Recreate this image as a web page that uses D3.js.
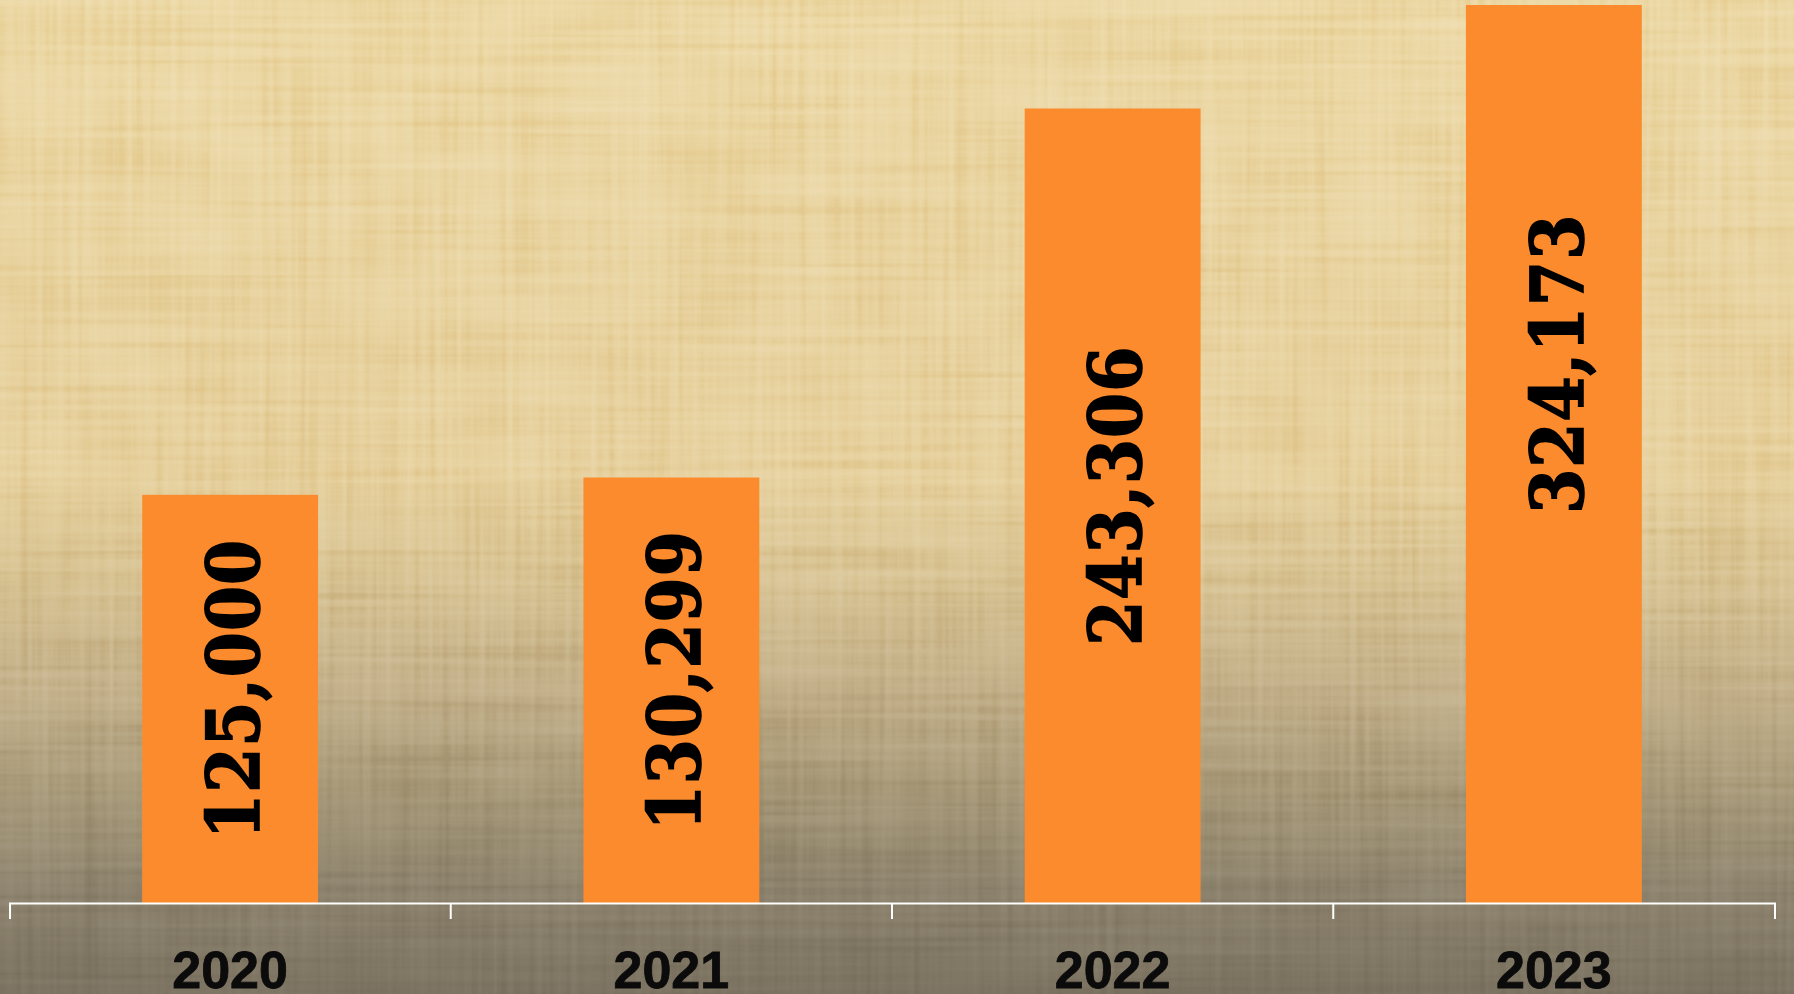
<!DOCTYPE html>
<html>
<head>
<meta charset="utf-8">
<script src="https://cdn.jsdelivr.net/npm/d3@7"></script>
<style>
    html, body { margin: 0; padding: 0; overflow: hidden; background: #7c7361; }
    #chart { width: 1794px; height: 994px; }
    .bar-label {
        font-family: "DejaVu Serif Condensed", "DejaVu Serif", serif;
        font-stretch: condensed;
        font-weight: bold;
        font-size: 72px;
        letter-spacing: 1px;
        fill: #000;
        stroke: #000;
        stroke-width: 1.6px;
    }
    .x-axis text {
        font-family: "Liberation Sans", Arial, sans-serif;
        font-weight: bold;
        font-size: 52px;
        fill: #0b0b0b;
        stroke: #0b0b0b;
        stroke-width: 0.8px;
    }
</style>
</head>
<body>
<div id="chart"></div>
<script>

// data
const years = ['2020', '2021', '2022', '2023'];
const visitors = [125000, 130299, 243306, 324173];

// value axis top (the last bar runs past it and gets cut)
const yMax = 275000;


class BarChart {

    constructor(parentElement, categories, values) {
        this.parentElement = parentElement;
        this.categories = categories;
        this.values = values;

        this.barColor = '#fc8b2d';
        this.axisColor = '#ffffff';

        this.initVis();
    }

    initVis() {
        let vis = this;

        vis.fullWidth = 1794;
        vis.fullHeight = 994;
        vis.margin = {top: 5, right: 19.5, bottom: 91, left: 9.5};
        vis.width = vis.fullWidth - vis.margin.left - vis.margin.right;
        vis.height = vis.fullHeight - vis.margin.top - vis.margin.bottom;

        vis.root = d3.select('#' + vis.parentElement).append('svg')
            .attr('width', vis.fullWidth)
            .attr('height', vis.fullHeight)
            .style('isolation', 'isolate');

        let defs = vis.root.append('defs');

        // parchment background: tan on top, fading to grey-brown
        let grad = defs.append('linearGradient')
            .attr('id', 'bgGrad')
            .attr('gradientUnits', 'userSpaceOnUse')
            .attr('x1', 0).attr('y1', 0)
            .attr('x2', 0).attr('y2', vis.fullHeight);

        [
            [0, '#ecd8a5'], [0.48, '#e6d09d'], [0.58, '#d8c393'],
            [0.69, '#c4b18a'], [0.80, '#a69878'], [0.90, '#8c826d'], [1, '#7b7261']
        ].forEach(s => grad.append('stop').attr('offset', s[0]).attr('stop-color', s[1]));

        // texture fades out towards the bottom
        let fade = defs.append('linearGradient')
            .attr('id', 'fadeGrad')
            .attr('gradientUnits', 'userSpaceOnUse')
            .attr('x1', 0).attr('y1', 0)
            .attr('x2', 0).attr('y2', vis.fullHeight);
        [[0, 1], [0.55, 0.9], [1, 0.35]].forEach(s =>
            fade.append('stop').attr('offset', s[0]).attr('stop-color', '#fff').attr('stop-opacity', s[1]));
        defs.append('mask')
            .attr('id', 'fadeMask')
            .append('rect')
            .attr('width', vis.fullWidth)
            .attr('height', vis.fullHeight)
            .attr('fill', 'url(#fadeGrad)');

        // woven texture: thin rows + columns + a few larger patches, grey around 0.5
        let f = defs.append('filter')
            .attr('id', 'weave')
            .attr('x', 0).attr('y', 0).attr('width', '100%').attr('height', '100%')
            .attr('color-interpolation-filters', 'sRGB');
        f.append('feTurbulence')
            .attr('type', 'fractalNoise')
            .attr('baseFrequency', '0.003 0.14')
            .attr('numOctaves', 2).attr('seed', 4).attr('result', 'rows');
        f.append('feTurbulence')
            .attr('type', 'fractalNoise')
            .attr('baseFrequency', '0.14 0.003')
            .attr('numOctaves', 2).attr('seed', 9).attr('result', 'cols');
        f.append('feTurbulence')
            .attr('type', 'fractalNoise')
            .attr('baseFrequency', '0.012 0.016')
            .attr('numOctaves', 1).attr('seed', 2).attr('result', 'patch');
        f.append('feComposite')
            .attr('in', 'rows').attr('in2', 'cols')
            .attr('operator', 'arithmetic')
            .attr('k1', 0).attr('k2', 0.5).attr('k3', 0.5).attr('k4', 0)
            .attr('result', 'threads');
        f.append('feComposite')
            .attr('in', 'threads').attr('in2', 'patch')
            .attr('operator', 'arithmetic')
            .attr('k1', 0).attr('k2', 0.75).attr('k3', 0.25).attr('k4', 0)
            .attr('result', 'mix');
        f.append('feColorMatrix')
            .attr('in', 'mix')
            .attr('type', 'matrix')
            .attr('values', '1 0 0 0 0  1 0 0 0 0  1 0 0 0 0  0 0 0 0 1')
            .attr('result', 'grey');
        let ct = f.append('feComponentTransfer').attr('in', 'grey');
        ['feFuncR', 'feFuncG', 'feFuncB'].forEach(n =>
            ct.append(n).attr('type', 'linear').attr('slope', 2.6).attr('intercept', -0.8));

        vis.root.append('rect')
            .attr('width', vis.fullWidth)
            .attr('height', vis.fullHeight)
            .attr('fill', 'url(#bgGrad)');

        vis.root.append('g')
            .attr('mask', 'url(#fadeMask)')
            .style('mix-blend-mode', 'soft-light')
            .style('opacity', 0.32)
            .append('rect')
            .attr('width', vis.fullWidth)
            .attr('height', vis.fullHeight)
            .attr('filter', 'url(#weave)');

        // plot area clip so the tallest bar gets cut at the top
        defs.append('clipPath')
            .attr('id', 'plotClip')
            .append('rect')
            .attr('x', 0).attr('y', 0)
            .attr('width', vis.width).attr('height', vis.height);

        vis.svg = vis.root.append('g')
            .attr('transform', `translate (${vis.margin.left}, ${vis.margin.top})`);

        vis.barGroup = vis.svg.append('g').attr('clip-path', 'url(#plotClip)');
        vis.labelGroup = vis.svg.append('g');

        vis.xAxisGroup = vis.svg.append('g')
            .attr('class', 'axis x-axis')
            .attr('transform', `translate (0,${vis.height})`);

        vis.wrangleData();
    }

    wrangleData() {
        let vis = this;

        vis.data = vis.categories.map((c, i) => ({year: c, value: vis.values[i]}));

        vis.updateVis();
    }

    updateVis() {
        let vis = this;

        // scales
        vis.x0 = d3.scaleBand()
            .range([0, vis.width])
            .domain(vis.categories)
            .padding(0);

        vis.x1 = d3.scaleBand()
            .domain(['v'])
            .range([0, vis.x0.bandwidth()])
            .padding(0.43);

        vis.y = d3.scaleLinear()
            .range([vis.height, 0])
            .domain([0, yMax]);

        // bars
        vis.barGroup.selectAll('.bar')
            .data(vis.data)
            .join('rect')
            .attr('class', 'bar')
            .attr('x', d => vis.x0(d.year) + vis.x1('v'))
            .attr('y', d => vis.y(d.value))
            .attr('width', vis.x1.bandwidth())
            .attr('height', d => vis.height - vis.y(d.value))
            .attr('fill', vis.barColor);

        // value labels, rotated, centred on the (uncut) bar
        let fmt = d3.format(',');
        vis.labelGroup.selectAll('.bar-label')
            .data(vis.data)
            .join('text')
            .attr('class', 'bar-label')
            .attr('transform', d => {
                let cx = vis.x0(d.year) + vis.x1('v') + vis.x1.bandwidth() / 2;
                let cy = (vis.y(d.value) + vis.y(0)) / 2 - 10;
                return `translate(${cx},${cy}) rotate(-90)`;
            })
            .attr('text-anchor', 'middle')
            .attr('dy', '0.4em')
            .text(d => fmt(d.value));

        // axis: labels at centres, ticks at band edges
        vis.xAxisGroup.call(
            d3.axisBottom(vis.x0)
                .tickSize(0)
                .tickSizeOuter(16)
                .tickPadding(48)
        );

        vis.xAxisGroup.select('.domain')
            .attr('stroke', vis.axisColor)
            .attr('stroke-width', 2);

        vis.xAxisGroup.selectAll('.edge-tick')
            .data(vis.categories.slice(1))
            .join('line')
            .attr('class', 'edge-tick')
            .attr('x1', d => vis.x0(d))
            .attr('x2', d => vis.x0(d))
            .attr('y1', 0)
            .attr('y2', 16)
            .attr('stroke', vis.axisColor)
            .attr('stroke-width', 2);

        vis.xAxisGroup.selectAll('.tick text')
            .attr('fill', '#0b0b0b');
    }
}

new BarChart('chart', years, visitors);

</script>
</body>
</html>
